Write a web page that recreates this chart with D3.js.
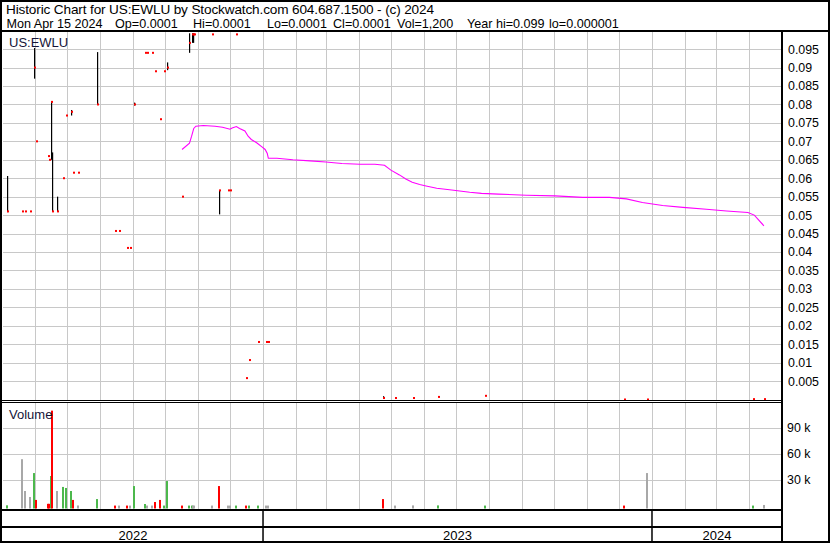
<!DOCTYPE html>
<html><head><meta charset="utf-8">
<script src="https://cdn.jsdelivr.net/npm/d3@7"></script>
<style>body{margin:0;background:#fff}svg{display:block;font-family:"Liberation Sans",Arial,sans-serif}</style>
</head><body><svg id="c" width="830" height="543"></svg>
<script>
// ---------------- data ----------------
const symbol = "US:EWLU";
const titleLine = "Historic Chart for US:EWLU by Stockwatch.com 604.687.1500 - (c) 2024";
const quoteFields = ["Mon Apr 15 2024","Op=0.0001","Hi=0.0001","Lo=0.0001","Cl=0.0001","Vol=1,200","Year hi=0.099","lo=0.000001"];
const priceTicks = [0.005,0.01,0.015,0.02,0.025,0.03,0.035,0.04,0.045,0.05,0.055,0.06,0.065,0.07,0.075,0.08,0.085,0.09,0.095];
const priceTickLabels = ["0.005","0.01","0.015","0.02","0.025","0.03","0.035","0.04","0.045","0.05","0.055","0.06","0.065","0.07","0.075","0.08","0.085","0.09","0.095"];
const volumeTicks = [30000,60000,90000];
const volumeTickLabels = ["30 k","60 k","90 k"];
const years = [2022,2023,2024];
const panelLabels = ["US:EWLU","Volume"];

const dates = ["2022-05-06","2022-05-20","2022-05-23","2022-05-27","2022-05-31","2022-06-02","2022-06-13","2022-06-14","2022-06-16","2022-06-17",
  "2022-06-22","2022-06-27","2022-06-30","2022-07-05","2022-07-07","2022-07-11","2022-07-29","2022-08-15","2022-08-19","2022-08-26",
  "2022-08-29","2022-09-02","2022-09-12","2022-09-14","2022-09-19","2022-09-22","2022-09-26","2022-09-30","2022-10-03","2022-10-17",
  "2022-10-24","2022-10-26","2022-10-27","2022-10-28","2022-11-14","2022-11-21","2022-11-29","2022-12-01","2022-12-07","2022-12-16",
  "2022-12-19","2022-12-27","2023-01-04","2023-01-06","2023-04-24","2023-05-05","2023-05-22","2023-06-14","2023-07-28","2023-12-06",
  "2023-12-27","2024-04-05","2024-04-15"];
const highs = [0.0606,null,null,null,0.0953,null,null,null,0.0807,0.067,
  0.055,null,null,0.0785,null,null,0.0942,null,null,null,
  null,0.0805,null,null,null,null,null,null,0.0914,null,
  0.0993,0.0993,0.0993,null,null,0.0567,null,null,null,null,
  null,null,null,null,0.0009,null,null,null,null,null,
  null,null,null];
const lows = [0.0508,null,null,null,0.087,null,null,null,0.065,0.051,
  0.051,null,null,0.077,null,null,0.080,null,null,null,
  null,0.0797,null,null,null,null,null,null,0.0893,null,
  0.094,0.0967,0.0967,null,null,0.0502,null,null,null,null,
  null,null,null,null,0.0004,null,null,null,null,null,
  null,null,null];
const closes = [0.051,0.051,0.051,0.051,0.090,0.070,0.066,0.065,0.0807,0.051,
  0.051,0.060,0.077,0.078,0.0615,0.0615,0.080,0.0457,0.0457,0.0411,
  0.0411,0.080,0.094,0.094,0.094,0.089,0.076,0.089,0.090,0.055,
  0.0967,0.099,0.099,0.099,0.099,0.0567,0.0567,0.0567,0.099,0.0058,
  0.0107,0.0156,0.0156,0.0156,0.0004,0.0004,0.0004,0.0007,0.001,0.000001,
  0.000001,0.0001,0.0001];
const volumes = [800,54000,17300,10400,38000,7000,2500,2500,34600,110000,
  17300,22000,20800,17300,7000,600,8000,500,500,500,
  500,23000,2300,500,500,4600,7000,500,28800,500,
  500,500,500,500,500,23000,500,500,500,500,
  500,500,500,500,8000,500,700,700,500,500,
  38000,500,1200];
const priorClose = 0.05;

const maDates = ["2022-10-17","2022-10-24","2022-10-26","2022-10-28","2022-10-30","2022-11-06","2022-11-17","2022-11-24","2022-12-01","2022-12-03",
  "2022-12-07","2022-12-10","2022-12-15","2022-12-18","2022-12-21","2022-12-26","2022-12-31","2023-01-03","2023-01-05","2023-01-06",
  "2023-01-14","2023-01-29","2023-02-14","2023-03-01","2023-03-16","2023-04-02","2023-04-16","2023-04-25","2023-05-01","2023-05-09",
  "2023-05-15","2023-05-21","2023-05-28","2023-06-03","2023-06-13","2023-06-27","2023-07-14","2023-07-25","2023-08-10","2023-09-05",
  "2023-10-02","2023-10-28","2023-11-22","2023-12-08","2023-12-23","2024-01-11","2024-01-30","2024-02-21","2024-03-11","2024-03-31",
  "2024-04-06","2024-04-15"];
const maValues = [0.0678,0.0695,0.0714,0.0735,0.0741,0.0743,0.0741,0.0738,0.0733,0.0736,
  0.0740,0.0735,0.0728,0.0714,0.0705,0.0696,0.0685,0.0678,0.0667,0.0654,
  0.0654,0.0650,0.0647,0.0644,0.0640,0.0638,0.0638,0.0635,0.0622,0.0609,
  0.0598,0.0589,0.0583,0.0579,0.0573,0.0568,0.0562,0.0559,0.0557,0.0554,
  0.0552,0.0548,0.0548,0.0544,0.0534,0.0526,0.0521,0.0516,0.0511,0.0507,
  0.0500,0.0471];

// ---------------- layout ----------------
const W = 830, H = 543;
const L = { left: 3, right: 782, headTop: 31, priceBottom: 400, volTop: 403, volBase: 508.5, axis1: 510, axis2: 527, bottom: 542 };
const parse = d3.timeParse("%Y-%m-%d");
const svg = d3.select("#c");
const gridColor = "#c8c8c8";
const txt = "#000";

const x = d3.scaleTime().domain([parse("2022-05-02"), parse("2024-05-02")]).range([L.left, L.right]);
const y = d3.scaleLinear().domain([0, 0.1]).range([399.5, 30.7]);
const yv = d3.scaleLinear().domain([0, 120000]).range([506, 402]);

const rows = dates.map((d, i) => ({
  date: parse(d), high: highs[i] ?? closes[i], low: lows[i] ?? closes[i], close: closes[i], vol: volumes[i],
  prev: i === 0 ? priorClose : closes[i - 1]
}));

svg.append("rect").attr("width", W).attr("height", H).attr("fill", "#fff");

// header
svg.append("text").attr("x", 6).attr("y", 13.8).attr("font-size", 13.6)
  .attr("textLength", 428).attr("lengthAdjust", "spacing").attr("fill", txt).text(titleLine);
const fieldX = [6.5, 115, 193, 267, 333, 397, 467, 549];
svg.selectAll("text.q").data(quoteFields).join("text").attr("class", "q")
  .attr("x", (d, i) => fieldX[i]).attr("y", 28).attr("font-size", 12.6).attr("fill", txt).text(d => d);

// grid
const months = d3.timeMonth.range(x.domain()[0], x.domain()[1]).filter(d => x(d) < L.right - 3 && x(d) > L.left + 3);
const gx = d => Math.round(x(d)) + 0.5;
svg.append("g").selectAll("line").data(months).join("line")
  .attr("x1", gx).attr("x2", gx).attr("y1", L.headTop).attr("y2", L.priceBottom)
  .attr("stroke", gridColor).attr("stroke-width", 1);
svg.append("g").selectAll("line").data(months).join("line")
  .attr("x1", gx).attr("x2", gx).attr("y1", L.volTop).attr("y2", L.axis1)
  .attr("stroke", gridColor).attr("stroke-width", 1);
svg.append("g").selectAll("line").data(priceTicks).join("line")
  .attr("x1", L.left).attr("x2", L.right).attr("y1", d => Math.round(y(d)) + 0.5).attr("y2", d => Math.round(y(d)) + 0.5)
  .attr("stroke", gridColor);
svg.append("g").selectAll("line").data(volumeTicks).join("line")
  .attr("x1", L.left).attr("x2", L.right).attr("y1", d => Math.round(yv(d)) + 0.5).attr("y2", d => Math.round(yv(d)) + 0.5)
  .attr("stroke", gridColor);

// axis labels
svg.append("g").selectAll("text").data(priceTicks).join("text")
  .attr("x", 788).attr("y", d => y(d)).attr("dy", "0.36em").attr("font-size", 12.4).attr("fill", txt)
  .text((d, i) => priceTickLabels[i]);
svg.append("g").selectAll("text").data(volumeTicks).join("text")
  .attr("x", 787).attr("y", d => yv(d)).attr("dy", "0.36em").attr("font-size", 12.4).attr("fill", txt)
  .text((d, i) => volumeTickLabels[i]);

// volume bars
const volColor = r => r.close > r.prev ? "#4cb84c" : (r.close < r.prev ? "#ff0000" : "#a8a8a8");
svg.append("g").selectAll("rect").data(rows).join("rect")
  .attr("x", r => Math.round(x(r.date)) - 1).attr("width", 2)
  .attr("y", r => yv(r.vol)).attr("height", r => L.volBase - yv(r.vol))
  .attr("fill", volColor);

// moving average
const ma = maDates.map((d, i) => ({ date: parse(d), v: maValues[i] }));
svg.append("path").datum(ma).attr("fill", "none").attr("stroke", "#ff00ff").attr("stroke-width", 1.1)
  .attr("d", d3.line().x(d => x(d.date)).y(d => y(d.v)));

// high-low bars and closes
svg.append("g").selectAll("rect").data(rows.filter(r => r.high > r.low)).join("rect")
  .attr("x", r => Math.round(x(r.date))).attr("width", 1.2)
  .attr("y", r => y(r.high)).attr("height", r => y(r.low) - y(r.high)).attr("fill", "#000");
svg.append("g").selectAll("rect").data(rows).join("rect")
  .attr("x", r => Math.round(x(r.date))).attr("width", 2)
  .attr("y", r => y(r.close) - 1).attr("height", 2).attr("fill", "#ff0000");

// panel labels
svg.append("text").attr("x", 9).attr("y", 47).attr("font-size", 13).attr("fill", "#141438").text(panelLabels[0]);
svg.append("text").attr("x", 9).attr("y", 419).attr("font-size", 13).attr("fill", "#141438").text(panelLabels[1]);

// frame
const ln = (x1, y1, x2, y2, w) => svg.append("line").attr("x1", x1).attr("y1", y1).attr("x2", x2).attr("y2", y2).attr("stroke", "#000").attr("stroke-width", w);
ln(0, 31, W, 31, 2);
ln(0, 400.5, L.right, 400.5, 1);
ln(0, 402.5, L.right, 402.5, 1);
ln(0, L.axis1, L.right, L.axis1, 2);
ln(0, L.axis2, L.right, L.axis2, 2);
ln(L.right, 31, L.right, H, 2);
svg.append("rect").attr("x", 1).attr("y", 1).attr("width", W - 2).attr("height", H - 2).attr("fill", "none").attr("stroke", "#000").attr("stroke-width", 2);

// years
const yearStarts = years.slice(1).map(yr => new Date(yr, 0, 1));
yearStarts.forEach(d => ln(x(d), L.axis1, x(d), L.bottom, 1.5));
years.forEach(yr => {
  const a = Math.max(x(new Date(yr, 0, 1)), L.left), b = Math.min(x(new Date(yr + 1, 0, 1)), L.right);
  svg.append("text").attr("x", (a + b) / 2).attr("y", 540).attr("text-anchor", "middle").attr("font-size", 13).attr("fill", txt).text(yr);
});
</script></body></html>
